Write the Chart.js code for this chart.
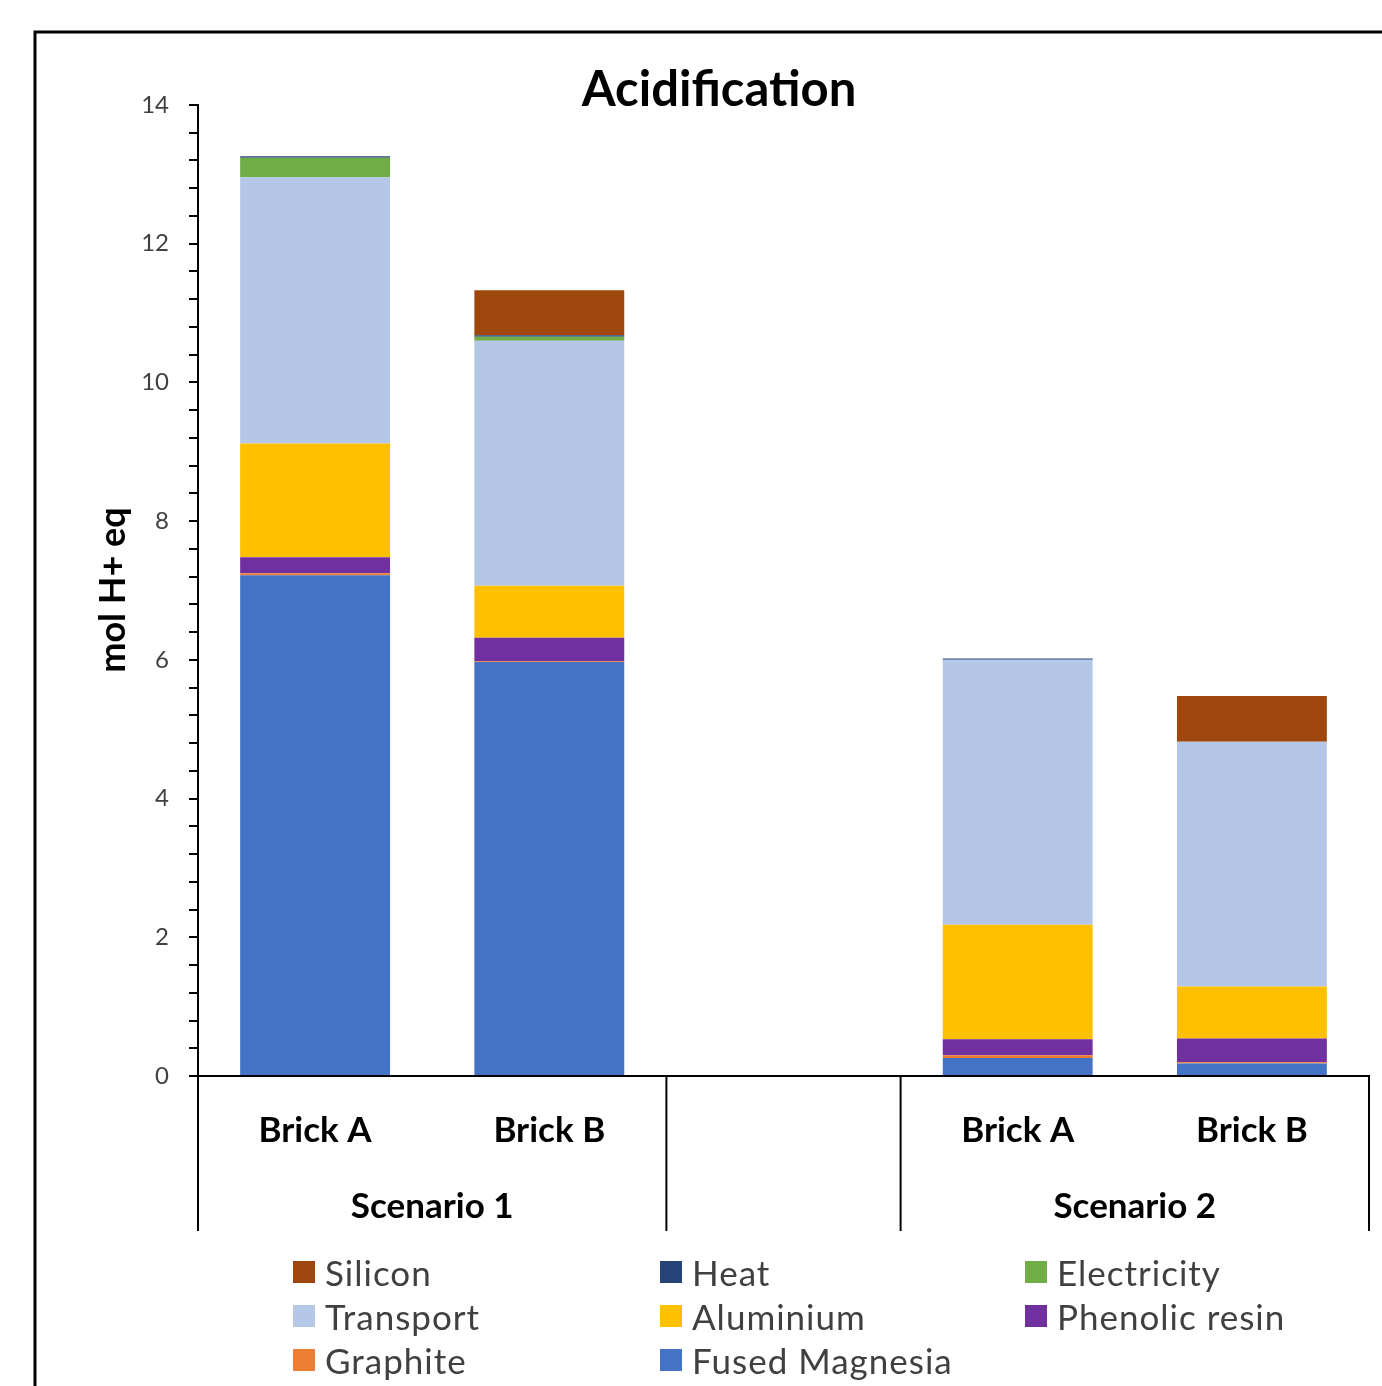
<!DOCTYPE html>
<html>
<head>
<meta charset="utf-8">
<script src="https://cdn.jsdelivr.net/npm/chart.js@4.4.1/dist/chart.umd.min.js"></script>
<style>
  body { margin: 0; background: #fff; }
  #wrap { position: relative; width: 1382px; height: 1386px; overflow: hidden; }
  #legend { position: absolute; left: 293px; top: 1250px; width: 1080px;
            display: grid; grid-template-columns: 367px 365px 340px; row-gap: 0; }
  .item { display: flex; align-items: center; height: 44px; font: 35px Lato, sans-serif; letter-spacing: 1px; color: #404040; white-space: nowrap; }
  .box { width: 22px; height: 22px; margin-right: 10px; flex: none; }
</style>
</head>
<body>
<div id="wrap">
  <canvas id="acidChart" width="1382" height="1386"></canvas>
  <div id="legend"></div>
</div>
<script>
// ================= DATA =================
const categories = ["Brick A", "Brick B", "", "Brick A", "Brick B"];
const scenarios = ["Scenario 1", "Scenario 2"];
const scenarioSpans = [[0, 1], [3, 4]];

const fusedMagnesia = [7.22, 5.97, null, 0.26, 0.18];
const graphite      = [0.03, 0.01, null, 0.04, 0.02];
const phenolicResin = [0.23, 0.34, null, 0.23, 0.34];
const aluminium     = [1.64, 0.75, null, 1.65, 0.75];
const transport     = [3.84, 3.53, null, 3.82, 3.53];
const electricity   = [0.28, 0.06, null, 0, 0];
const heat          = [0.02, 0.02, null, 0.02, 0];
const silicon       = [0, 0.65, null, 0, 0.66];

const yTicks = [0, 2, 4, 6, 8, 10, 12, 14];

const FONT = "Lato, 'Open Sans', sans-serif";

// ================= DATASETS (bottom to top) =================
const datasets = [
    { label: "Fused Magnesia", data: fusedMagnesia, backgroundColor: "#4472C4" },
    { label: "Graphite", data: graphite, backgroundColor: "#ED7D31" },
    { label: "Phenolic resin", data: phenolicResin, backgroundColor: "#7030A0" },
    { label: "Aluminium", data: aluminium, backgroundColor: "#FFC000" },
    { label: "Transport", data: transport, backgroundColor: "#B4C7E7" },
    { label: "Electricity", data: electricity, backgroundColor: "#70AD47" },
    { label: "Heat", data: heat, backgroundColor: "#264478" },
    { label: "Silicon", data: silicon, backgroundColor: "#9E480E" }
];
datasets.forEach(d => {
    d.categoryPercentage = 1;
    d.barPercentage = 0.64;
});

// ================= EXTRA DRAWING =================
const decorPlugin = {
    id: "decor",
    afterDraw(chart) {
        const ctx = chart.ctx;
        const x = chart.scales.x;
        const area = chart.chartArea;
        const half = (x.getPixelForValue(1) - x.getPixelForValue(0)) / 2;
        const sepBottom = 1231;
        ctx.save();

        // outer frame
        ctx.strokeStyle = "#000";
        ctx.lineWidth = 3;
        ctx.beginPath();
        ctx.moveTo(35, 1386);
        ctx.lineTo(35, 32);
        ctx.lineTo(1382, 32);
        ctx.stroke();

        // category group separators
        const seps = [
            x.getPixelForValue(0) - half,
            x.getPixelForValue(1) + half,
            x.getPixelForValue(3) - half,
            x.getPixelForValue(4) + half
        ];
        ctx.lineWidth = 2;
        seps.forEach(px => {
            ctx.beginPath();
            ctx.moveTo(px, area.bottom);
            ctx.lineTo(px, sepBottom);
            ctx.stroke();
        });

        // scenario labels
        ctx.fillStyle = "#000";
        ctx.font = "bold 35px " + FONT;
        ctx.textAlign = "center";
        ctx.textBaseline = "middle";
        scenarioSpans.forEach((s, i) => {
            const cx = (x.getPixelForValue(s[0]) + x.getPixelForValue(s[1])) / 2;
            ctx.fillText(scenarios[i], cx, 1207);
        });

        // title
        ctx.font = "bold 49px " + FONT;
        ctx.fillText("Acidification", 719, 90);

        // y axis title
        ctx.translate(113, 590);
        ctx.rotate(-Math.PI / 2);
        ctx.font = "bold 36px " + FONT;
        ctx.fillText("mol H+ eq", 0, 0);
        ctx.restore();
    }
};

const chart = new Chart(document.getElementById("acidChart"), {
    type: "bar",
    data: { labels: categories, datasets },
    options: {
        responsive: false,
        animation: false,
        layout: { padding: { left: 0, right: 13, top: 105, bottom: 155 } },
        plugins: {
            legend: { display: false },
            title: { display: false },
            tooltip: { enabled: false }
        },
        scales: {
            x: {
                stacked: true,
                grid: { display: false, drawTicks: false },
                border: { color: "#000", width: 2 },
                ticks: {
                    color: "#000",
                    font: { family: FONT, size: 35, weight: "bold" },
                    padding: 34,
                    maxRotation: 0,
                    autoSkip: false
                },
                afterFit(scale) { scale.height = 155; }
            },
            y: {
                stacked: true,
                min: 0,
                max: 14,
                grid: { drawOnChartArea: false, tickLength: 9, color: "#000", lineWidth: 2 },
                border: { color: "#000", width: 2 },
                ticks: {
                    stepSize: 0.4,
                    autoSkip: false,
                    padding: 20,
                    color: "#404040",
                    font: { family: FONT, size: 24 },
                    callback: v => {
                        const t = yTicks.find(t => Math.abs(t - v) < 1e-6);
                        return t === undefined ? "" : String(t);
                    }
                },
                afterFit(scale) { scale.width = 198; }
            }
        }
    },
    plugins: [decorPlugin]
});

// ================= LEGEND =================
const legend = document.getElementById("legend");
chart.data.datasets.slice().reverse().forEach(d => {
    const item = document.createElement("div");
    item.className = "item";
    item.innerHTML = `<span class="box" style="background:${d.backgroundColor}"></span><span>${d.label}</span>`;
    legend.appendChild(item);
});
</script>
</body>
</html>
